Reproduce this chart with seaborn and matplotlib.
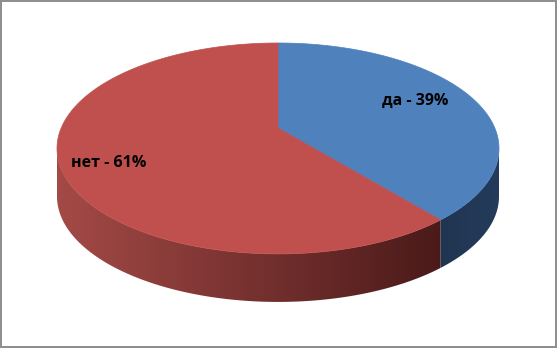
import numpy as np
import matplotlib
matplotlib.use("Agg")
import matplotlib.pyplot as plt
import seaborn as sns
from matplotlib.patches import Polygon, Rectangle
from matplotlib.colors import LinearSegmentedColormap

labels = ["да", "нет"]
values = [39, 61]

sns.set_theme(style="white")
plt.rcParams['font.family'] = ['Open Sans', 'DejaVu Sans']

top_colors = ["#4F81BD", "#C0504D"]
side_left = ["#1F3550", "#A44A47"]
side_right = ["#253B5C", "#4A1A19"]

W, H = 557, 348
fig = plt.figure(figsize=(W / 100, H / 100), dpi=100)
ax = fig.add_axes([0, 0, 1, 1])
ax.set_xlim(0, W)
ax.set_ylim(H, 0)
ax.axis("off")

# perspective mapping of the unit disk
xc, yc = 278.0, 128.0
A, B, k = 216.8, 101.5, 0.194
depth = 48.0


def proj(u, v, dz=0.0):
    w = 1 + k * v
    return xc + A * u / w, yc - B * v / w + dz


total = float(sum(values))
starts = np.cumsum([0] + values[:-1]) / total * 2 * np.pi
ends = np.cumsum(values) / total * 2 * np.pi

# visible front side range (between silhouette tangent points)
vis0 = np.arctan2(np.sqrt(1 - k * k), -k)
vis1 = 2 * np.pi - vis0

for i in range(len(values)):
    a0, a1 = max(starts[i], vis0), min(ends[i], vis1)
    if a1 <= a0:
        continue
    th = np.linspace(a0, a1, 300)
    top = [proj(np.sin(a), np.cos(a)) for a in th]
    bot = [proj(np.sin(a), np.cos(a), depth) for a in th[::-1]]
    pts = np.array(top + bot)
    poly = Polygon(pts, closed=True, facecolor="none", edgecolor="none")
    ax.add_patch(poly)
    x0, x1 = pts[:, 0].min(), pts[:, 0].max()
    y0, y1 = pts[:, 1].min(), pts[:, 1].max()
    cmap = LinearSegmentedColormap.from_list(f"s{i}", [side_left[i], side_right[i]])
    grad = np.linspace(0, 1, 256)[None, :]
    im = ax.imshow(grad, cmap=cmap, extent=(x0 - 1, x1 + 1, y1 + 1, y0 - 1),
                   aspect="auto", interpolation="bilinear", zorder=1)
    im.set_clip_path(poly)

# top faces
for i in range(len(values)):
    th = np.linspace(starts[i], ends[i], 300)
    pts = [proj(0, 0)] + [proj(np.sin(a), np.cos(a)) for a in th]
    ax.add_patch(Polygon(pts, closed=True, facecolor=top_colors[i],
                         edgecolor=top_colors[i], linewidth=0.5, zorder=2))

# labels
label_r = [0.7, 0.8]
label_nudge = [(1, -4), (3, 6)]
for i in range(len(values)):
    mid = (starts[i] + ends[i]) / 2
    x, y = proj(label_r[i] * np.sin(mid), label_r[i] * np.cos(mid))
    dx, dy = label_nudge[i]
    ax.text(x + dx, y + dy, f"{labels[i]} - {values[i]}%", ha="center", va="center",
            fontsize=11.5, fontweight="bold", color="black", zorder=3)

ax.set_xlim(0, W)
ax.set_ylim(H, 0)
ax.add_patch(Rectangle((0.7, 0.7), W - 1.4, H - 1.4, fill=False,
                       edgecolor="#8C8C8C", linewidth=1.4, zorder=4))

fig.savefig("out.png", dpi=100)
